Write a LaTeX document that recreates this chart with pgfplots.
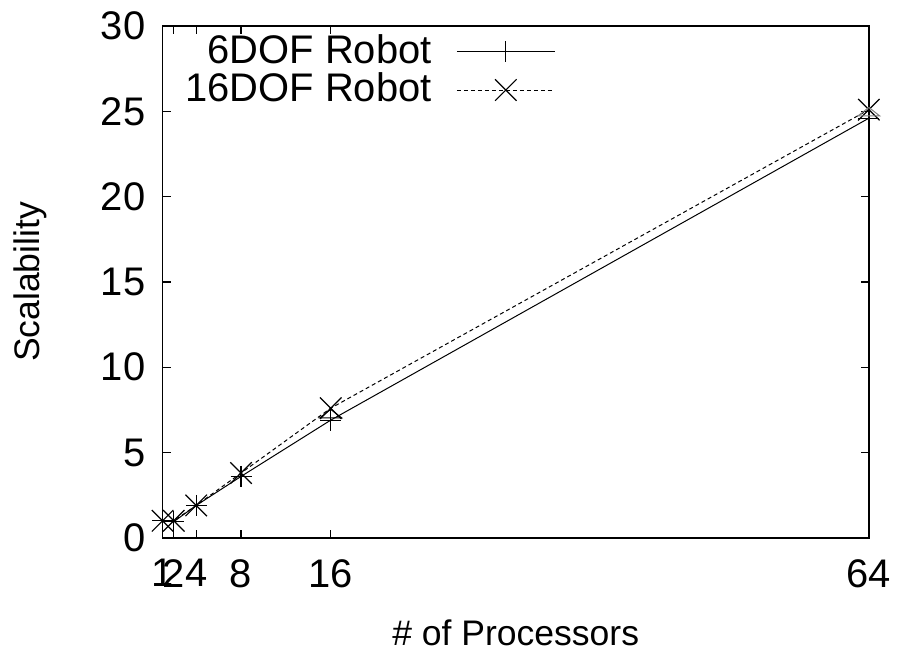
\documentclass[border=0pt]{standalone}
\usepackage{fontspec}
\setmainfont{Liberation Sans}
\usepackage{pgfplots}
\pgfplotsset{compat=1.18}

\begin{document}
\fontsize{18}{20}\selectfont
\begin{tikzpicture}
\begin{axis}[
  name=ax,
  scale only axis,
  width=354pt, height=256.5pt,
  xmin=1, xmax=64, ymin=0, ymax=30,
  xtick={1,2,4,8,16,64},
  ytick={0,5,...,30},
  tick align=inside,
  major tick length=4pt,
  axis line style={line width=0.8pt},
  every tick/.style={black, line width=0.6pt},
  /pgf/number format/assume math mode=true,
  tick label style={font=\fontsize{20}{22}\selectfont},
  xticklabel style={yshift=-4.5pt},
  yticklabel style={xshift=-2.5pt},
  xlabel={\# of Processors},
  ylabel={Scalability},
  label style={font=\fontsize{17.8}{20}\selectfont},
  xlabel style={at={(axis description cs:0.5,0)}, anchor=center, yshift=-47.5pt},
  ylabel style={at={(axis description cs:0,0.5)}, anchor=center, rotate=0, yshift=66.5pt},
  legend plot pos=right,
  legend cell align=right,
  legend style={draw=none, fill=none, at={(axis description cs:0.5565,0.992)}, anchor=north east,
    font=\fontsize{20}{21}\selectfont, row sep=-2pt, inner sep=0pt},
  legend image code/.code={
    \draw[mark repeat=2, mark phase=2, #1] plot coordinates {(0pt,0pt) (24.5pt,0pt) (49pt,0pt)};
  },
  clip=false,
]
\addplot[black, line width=0.5pt, mark=+, mark size=5.25pt, mark options={solid, line width=0.6pt}]
  coordinates {(1,1) (2,0.95) (4,1.9) (8,3.6) (16,6.9) (64,24.6)};
\addlegendentry{6DOF Robot\rule{10.5pt}{0pt}}
\addplot[black, line width=0.5pt, dash pattern=on 2pt off 1.5pt, mark=x, mark size=7.6pt, mark options={solid, line width=0.6pt}]
  coordinates {(1,1) (2,1) (4,1.9) (8,3.8) (16,7.6) (64,25.1)};
\addlegendentry{16DOF Robot\rule{10.5pt}{0pt}}
% flattened triangle markers left over from a third run
\addplot[black, only marks, mark=triangle, mark size=6.3pt, mark options={line width=0.5pt, yscale=0.45}, forget plot]
  coordinates {(16,7.2)};
\addplot[gray, only marks, mark=triangle, mark size=6.3pt, mark options={line width=0.5pt, yscale=0.45}, forget plot]
  coordinates {(64,24.9)};
\end{axis}
\path ([shift={(-81.5pt,-58pt)}]ax.south west) rectangle ([shift={(16pt,12.5pt)}]ax.north east);
\end{tikzpicture}
\end{document}
